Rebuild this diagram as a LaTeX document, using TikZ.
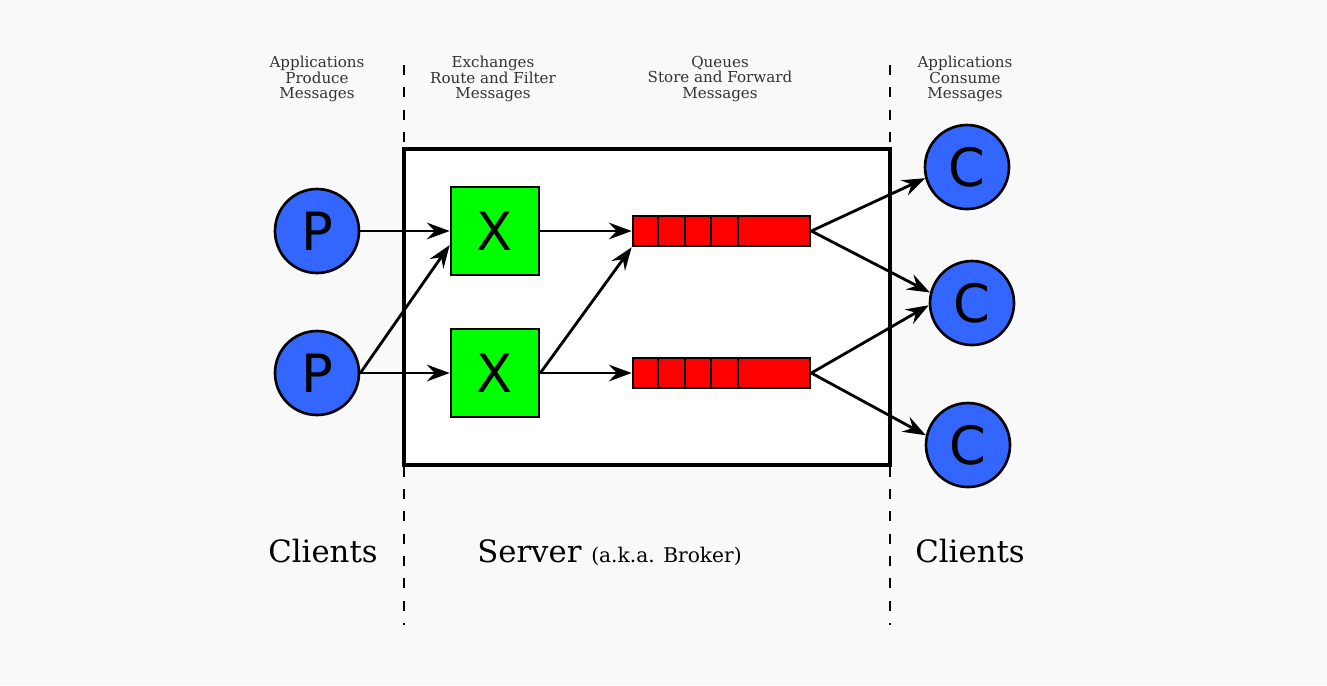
\documentclass[tikz,border=0pt]{standalone}
\usepackage{fontspec}
\setmainfont{DejaVu Serif}
\newfontfamily\letterfont{DejaVu Sans}
\usetikzlibrary{arrows.meta}
\definecolor{bggray}{HTML}{F9F9F9}
\definecolor{clientblue}{HTML}{3366FF}

\begin{document}
\begin{tikzpicture}[
    client/.style={circle,draw,line width=1.5pt,fill=clientblue,minimum size=1.68cm,inner sep=0pt,font=\letterfont\fontsize{30}{30}\selectfont},
    exchange/.style={rectangle,draw,line width=1.5pt,fill=green,minimum size=1.76cm,inner sep=0pt,font=\letterfont\fontsize{30}{30}\selectfont},
    queue/.style={rectangle,draw,line width=1.5pt,fill=red,minimum width=3.54cm,minimum height=0.6cm,inner sep=0pt},
    flow/.style={line width=1.6pt,-{Stealth[length=13pt,width=9.5pt,inset=4.5pt]}},
    divider/.style={line width=1.1pt,dash pattern=on 5.7pt off 7pt},
    toplabel/.style={align=center,font=\fontsize{8.6}{8.8}\selectfont,text=black!80},
    biglabel/.style={anchor=base,font=\fontsize{17.5}{20}\selectfont}
]
    \fill[bggray] (0,0) rectangle (26.54,-13.7);
    \draw[divider] (8.08,-1.3) -- (8.08,-12.5);
    \draw[divider] (17.8,-1.3) -- (17.8,-12.5);
    \draw[line width=1.9pt,fill=white] (8.08,-2.98) rectangle (17.8,-9.3);

    \node[client] (P1) at (6.34,-4.62) {P};
    \node[client] (P2) at (6.34,-7.46) {P};
    \node[exchange] (X1) at (9.9,-4.62) {X};
    \node[exchange] (X2) at (9.9,-7.46) {X};
    \node[queue] (Q1) at (14.43,-4.62) {};
    \node[queue] (Q2) at (14.43,-7.46) {};
    \foreach \q in {Q1,Q2}
        \foreach \i in {1,...,4}
            \draw[line width=1.3pt] ([xshift=\i*0.53cm]\q.south west) -- ([xshift=\i*0.53cm]\q.north west);
    \node[client] (C1) at (19.34,-3.34) {C};
    \node[client] (C2) at (19.44,-6.06) {C};
    \node[client] (C3) at (19.36,-8.9) {C};

    \draw[flow] (P1) -- (X1);
    \draw[flow] (P2.east) -- ([yshift=-0.28cm]X1.west);
    \draw[flow] (P2) -- (X2);
    \draw[flow] (X1) -- (Q1);
    \draw[flow] (X2.east) -- (Q1.south west);
    \draw[flow] (X2) -- (Q2);
    \draw[flow] (Q1.east) -- (C1.195);
    \draw[flow] (Q1.east) -- (C2.166);
    \draw[flow] (Q2.east) -- (C2.183);
    \draw[flow] (Q2.east) -- (C3.167);

    \node[toplabel] (prodlabel) at (6.34,-1.58) {Applications\\Produce\\Messages};
    \node[toplabel] (exlabel) at (9.86,-1.58) {Exchanges\\Route and Filter\\Messages};
    \node[toplabel] (queuelabel) at (14.4,-1.58) {Queues\\Store and Forward\\Messages};
    \node[toplabel] (conslabel) at (19.3,-1.58) {Applications\\Consume\\Messages};
    \node[biglabel] (leftclients) at (6.46,-11.24) {Clients};
    \node[biglabel] (server) at (12.19,-11.24) {Server {\fontsize{11.5}{14}\selectfont(a.k.a. Broker)}};
    \node[biglabel] (rightclients) at (19.4,-11.24) {Clients};
\end{tikzpicture}
\end{document}
